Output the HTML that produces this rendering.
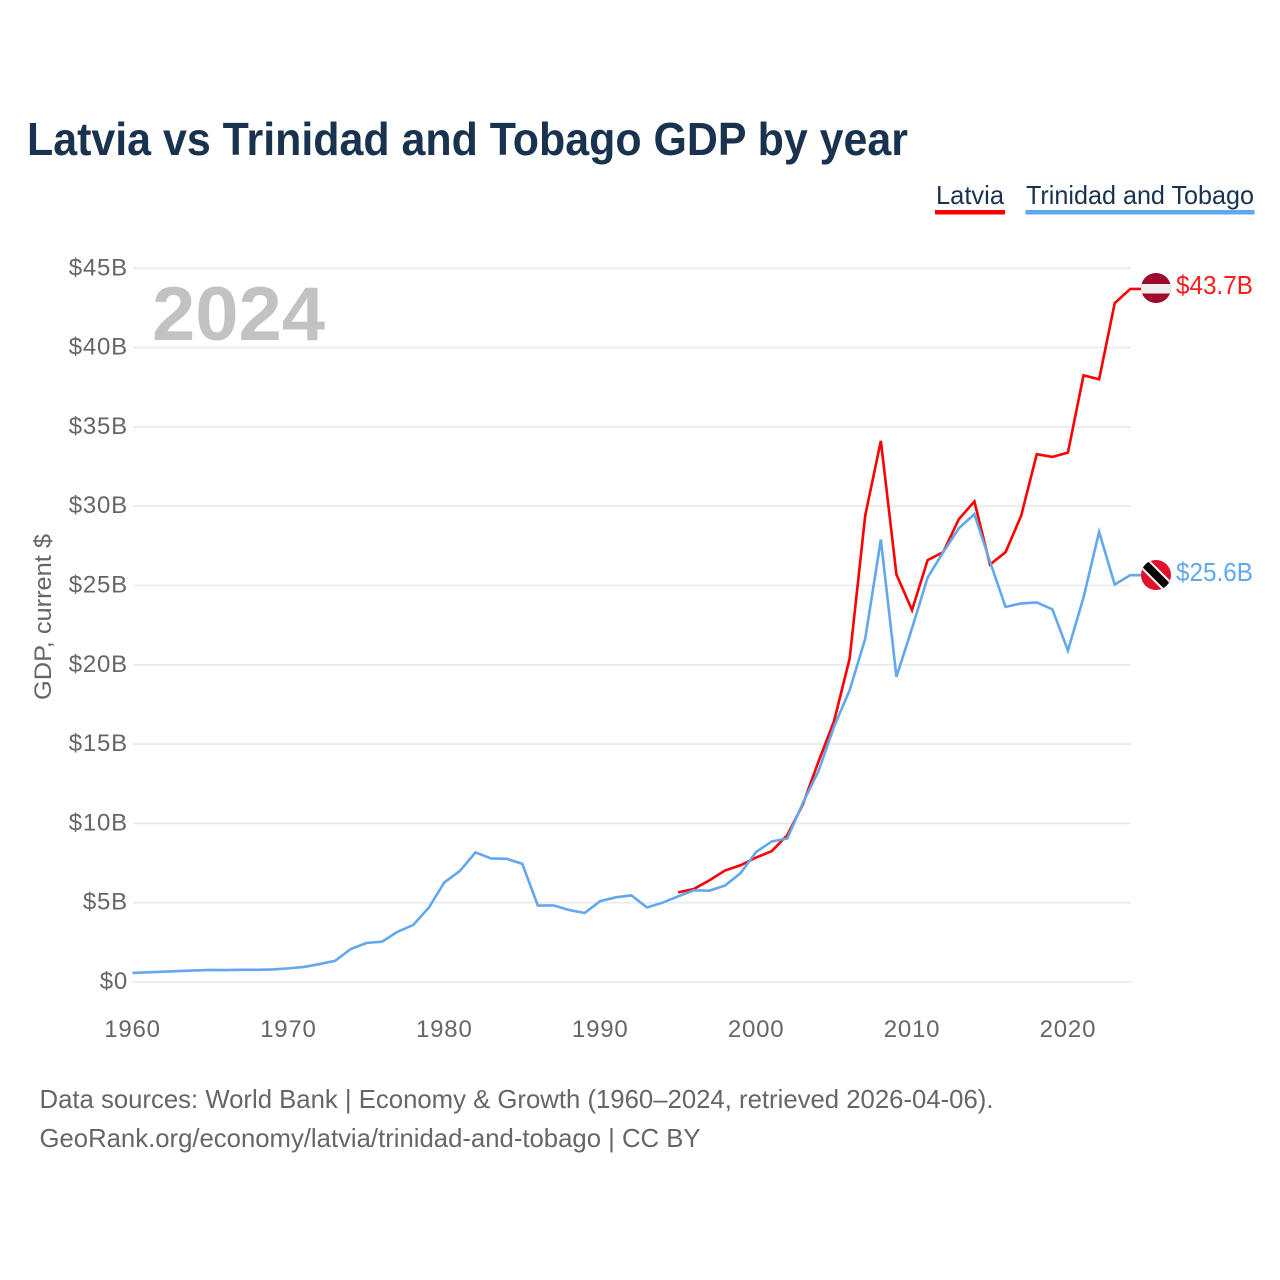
<!DOCTYPE html>
<html lang="en">
<head>
<meta charset="utf-8">
<title>Latvia vs Trinidad and Tobago GDP by year</title>
<style>
html,body{margin:0;padding:0;background:#fff;width:1280px;height:1280px;overflow:hidden}
svg{display:block;font-family:"Liberation Sans",sans-serif}
</style>
</head>
<body>
<svg id="chart" width="1280" height="1280" viewBox="0 0 1280 1280" xmlns="http://www.w3.org/2000/svg">
  <defs>
    <clipPath id="clip-lv"><circle cx="1156" cy="288" r="15"/></clipPath>
    <clipPath id="clip-tt"><circle cx="1156" cy="575" r="15"/></clipPath>
  </defs>
  <text x="27" y="155" font-size="46" font-weight="700" fill="#18324f" textLength="881" lengthAdjust="spacingAndGlyphs">Latvia vs Trinidad and Tobago GDP by year</text>

  <g>
    <g>
      <text x="936" y="204" font-size="26" fill="#18324f" textLength="68" lengthAdjust="spacingAndGlyphs">Latvia</text>
      <rect x="935" y="210" width="70" height="4.5" fill="#ff0000"/>
    </g>
    <g>
      <text x="1026" y="204" font-size="26" fill="#18324f" textLength="228" lengthAdjust="spacingAndGlyphs">Trinidad and Tobago</text>
      <rect x="1025.5" y="210" width="229" height="4.5" fill="#61a8ee"/>
    </g>
  </g>

  <g id="grid"></g>
  <g id="yticks"></g>
  <g id="xticks"></g>

  <text x="152" y="340" font-size="76" font-weight="700" fill="#c2c2c2" textLength="173" lengthAdjust="spacingAndGlyphs">2024</text>
  <text transform="translate(51,617) rotate(-90)" text-anchor="middle" font-size="24" fill="#666666" textLength="166" lengthAdjust="spacingAndGlyphs">GDP, current $</text>

  <g id="series"></g>

  <g clip-path="url(#clip-lv)">
    <rect x="1141" y="273" width="30" height="30" fill="#9e0a2c"/>
    <rect x="1141" y="284" width="30" height="9.5" fill="#eeeeee"/>
  </g>
  <g clip-path="url(#clip-tt)">
    <rect x="1141" y="560" width="30" height="30" fill="#e0112f"/>
    <line x1="1141" y1="560" x2="1171" y2="590" stroke="#ffffff" stroke-width="12"/>
    <line x1="1141" y1="560" x2="1171" y2="590" stroke="#000000" stroke-width="8"/>
  </g>

  <text x="1176" y="294" font-size="26" fill="#ff1a1a" textLength="77" lengthAdjust="spacingAndGlyphs">$43.7B</text>
  <text x="1176" y="581" font-size="26" fill="#61a8ee" textLength="77" lengthAdjust="spacingAndGlyphs">$25.6B</text>

  <text x="39.5" y="1108" font-size="26" fill="#666666" textLength="954" lengthAdjust="spacingAndGlyphs">Data sources: World Bank | Economy &amp; Growth (1960–2024, retrieved 2026-04-06).</text>
  <text x="39.5" y="1147" font-size="26" fill="#666666" textLength="661" lengthAdjust="spacingAndGlyphs">GeoRank.org/economy/latvia/trinidad-and-tobago | CC BY</text>
</svg>
<script>
var startYear = 1960;
var endYear = 2024;
var latviaStartYear = 1995;
var yTickValues = [0, 5, 10, 15, 20, 25, 30, 35, 40, 45];
var xTickYears = [1960, 1970, 1980, 1990, 2000, 2010, 2020];
var latviaValues = [5.65, 5.86, 6.41, 7.03, 7.36, 7.85, 8.25, 9.26, 11.2, 13.9, 16.45, 20.4, 29.43, 34.12, 25.69, 23.45, 26.6, 27.1, 29.18, 30.3, 26.32, 27.1, 29.4, 33.28, 33.11, 33.38, 38.25, 38.0, 42.8, 43.7];
var trinidadValues = [0.57, 0.61, 0.65, 0.69, 0.73, 0.76, 0.75, 0.77, 0.77, 0.79, 0.86, 0.95, 1.13, 1.34, 2.08, 2.46, 2.54, 3.17, 3.59, 4.68, 6.28, 7.0, 8.17, 7.79, 7.77, 7.45, 4.82, 4.83, 4.54, 4.35, 5.1, 5.34, 5.46, 4.7, 5.0, 5.4, 5.78, 5.76, 6.08, 6.86, 8.2, 8.86, 9.05, 11.3, 13.3, 16.1, 18.4, 21.66, 27.9, 19.24, 22.3, 25.5, 27.1, 28.6, 29.5, 26.5, 23.65, 23.87, 23.93, 23.5, 20.9, 24.25, 28.38, 25.06, 25.65];

var SVG_NS = 'http://www.w3.org/2000/svg';
function xScale(year) {
  return 132.5 + (year - startYear) * (1130.3 - 132.5) / (endYear - startYear);
}
function yScale(value) {
  return 982 - value * 15.86;
}
function make(tag) {
  return document.createElementNS(SVG_NS, tag);
}

var grid = document.getElementById('grid');
var yticks = document.getElementById('yticks');
yTickValues.forEach(function (v) {
  var line = make('line');
  
  
  line.setAttribute('x1', 133);
  line.setAttribute('x2', 1131);
  line.setAttribute('y1', yScale(v));
  line.setAttribute('y2', yScale(v));
  line.setAttribute('stroke', '#e9e9e9');
  line.setAttribute('stroke-width', '1.6');
  grid.appendChild(line);

  var label = make('text');
  
  
  label.setAttribute('x', 128);
  label.setAttribute('y', yScale(v) + 7);
  label.setAttribute('text-anchor', 'end');
  label.setAttribute('font-size', '24');
  label.setAttribute('letter-spacing', '0.8');
  label.setAttribute('fill', '#666666');
  label.textContent = '$' + v + (v === 0 ? '' : 'B');
  yticks.appendChild(label);
});

var xticks = document.getElementById('xticks');
xTickYears.forEach(function (yr) {
  var label = make('text');
  
  
  label.setAttribute('x', xScale(yr));
  label.setAttribute('y', 1037);
  label.setAttribute('text-anchor', 'middle');
  label.setAttribute('font-size', '24');
  label.setAttribute('letter-spacing', '0.8');
  label.setAttribute('fill', '#666666');
  label.textContent = String(yr);
  xticks.appendChild(label);
});

function pathFor(values, firstYear) {
  var d = '';
  values.forEach(function (v, i) {
    d += (i ? 'L' : 'M') + xScale(firstYear + i).toFixed(2) + ' ' + yScale(v).toFixed(2);
  });
  d += 'L1141 ' + yScale(values[values.length - 1]).toFixed(2);
  return d;
}

var series = document.getElementById('series');

var latviaLine = make('path');


latviaLine.setAttribute('d', pathFor(latviaValues, latviaStartYear));
latviaLine.setAttribute('fill', 'none');
latviaLine.setAttribute('stroke', '#ff0000');
latviaLine.setAttribute('stroke-width', '2.6');
latviaLine.setAttribute('stroke-linejoin', 'miter');
series.appendChild(latviaLine);

var trinidadLine = make('path');


trinidadLine.setAttribute('d', pathFor(trinidadValues, startYear));
trinidadLine.setAttribute('fill', 'none');
trinidadLine.setAttribute('stroke', '#61a8ee');
trinidadLine.setAttribute('stroke-width', '2.6');
trinidadLine.setAttribute('stroke-linejoin', 'miter');
series.appendChild(trinidadLine);
</script>
</body>
</html>
